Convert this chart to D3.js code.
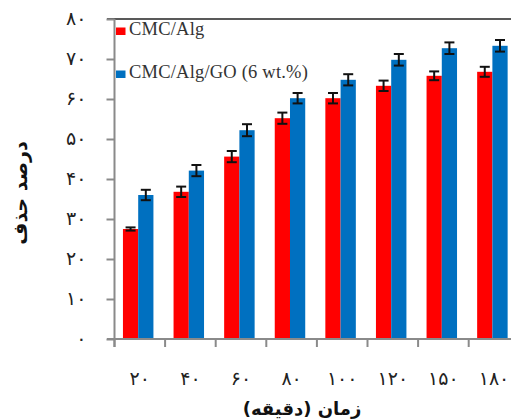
<!DOCTYPE html>
<html>
<head>
<meta charset="utf-8">
<script src="https://cdn.jsdelivr.net/npm/d3@7"></script>
<style>
  html, body { margin: 0; padding: 0; background: #fff; }
  svg { display: block; }
</style>
</head>
<body>
<div id="chart"></div>
<script>
// data
const categories = ["۲۰", "۴۰", "۶۰", "۸۰", "۱۰۰", "۱۲۰", "۱۵۰", "۱۸۰"];
const seriesNames = ["CMC/Alg", "CMC/Alg/GO (6 wt.%)"];
const cmcAlg = [27.5, 36.8, 45.6, 55.2, 60.2, 63.3, 65.8, 66.8];
const cmcAlgErr = [0.4, 1.3, 1.4, 1.4, 1.3, 1.3, 1.1, 1.25];
const cmcAlgGo = [36.0, 42.1, 52.2, 60.2, 64.8, 69.8, 72.7, 73.3];
const cmcAlgGoErr = [1.3, 1.4, 1.5, 1.3, 1.4, 1.45, 1.45, 1.45];
const yTicks = [0, 10, 20, 30, 40, 50, 60, 70, 80];
const colors = ["#ff0000", "#0070c0"];

const W = 511, H = 420;
const faDigits = "۰۱۲۳۴۵۶۷۸۹";
const toFa = n => String(n).replace(/\d/g, d => faDigits[+d]);

const svg = d3.select("#chart").append("svg")
    .attr("width", W).attr("height", H);

const x0 = d3.scaleBand().domain(categories).range([114.5, 114.5 + 8 * 50.6]).padding(0);
const x1 = d3.scaleBand().domain(seriesNames).range([0, x0.bandwidth()])
    .paddingInner(0).paddingOuter(0.66).align(0.42);
const y = d3.scaleLinear().domain([0, 80]).range([339, 19]);

const rows = categories.map((c, i) => ({
    cat: c,
    vals: [
        { s: seriesNames[0], v: cmcAlg[i], e: cmcAlgErr[i], k: 0 },
        { s: seriesNames[1], v: cmcAlgGo[i], e: cmcAlgGoErr[i], k: 1 }
    ]
}));

// top frame line
svg.append("line")
    .attr("x1", 107).attr("x2", W).attr("y1", y(80)).attr("y2", y(80))
    .attr("stroke", "#222").attr("stroke-width", 1.6);

// bars
const g = svg.append("g").selectAll("g").data(rows).join("g")
    .attr("transform", d => `translate(${x0(d.cat)},0)`);

g.selectAll("rect").data(d => d.vals).join("rect")
    .attr("x", d => x1(d.s))
    .attr("width", x1.bandwidth())
    .attr("y", d => y(d.v))
    .attr("height", d => y(0) - y(d.v))
    .attr("fill", d => colors[d.k]);

// error bars
const eb = g.selectAll("g.err").data(d => d.vals).join("g").attr("class", "err")
    .attr("stroke", "#111").attr("stroke-width", 2);
eb.append("line")
    .attr("x1", d => x1(d.s) + x1.bandwidth() / 2).attr("x2", d => x1(d.s) + x1.bandwidth() / 2)
    .attr("y1", d => y(d.v + d.e)).attr("y2", d => y(d.v - d.e));
eb.append("line")
    .attr("x1", d => x1(d.s) + x1.bandwidth() / 2 - 5).attr("x2", d => x1(d.s) + x1.bandwidth() / 2 + 5)
    .attr("y1", d => y(d.v + d.e)).attr("y2", d => y(d.v + d.e));
eb.append("line")
    .attr("x1", d => x1(d.s) + x1.bandwidth() / 2 - 5).attr("x2", d => x1(d.s) + x1.bandwidth() / 2 + 5)
    .attr("y1", d => y(d.v - d.e)).attr("y2", d => y(d.v - d.e));

// y axis
const yAxis = svg.append("g")
    .attr("transform", "translate(114.5,0)")
    .call(d3.axisLeft(y).tickValues(yTicks).tickSize(8).tickSizeOuter(0).tickPadding(20).tickFormat(toFa));
yAxis.select(".domain").attr("stroke", "#8a8a8a").attr("stroke-width", 2)
    .attr("d", `M0,${y(80)}V347`);
yAxis.selectAll(".tick line").attr("stroke", "#8a8a8a").attr("stroke-width", 2);
yAxis.selectAll(".tick text")
    .attr("font-family", "DejaVu Sans").attr("font-size", 19)
    .attr("fill", "#222").attr("dy", "0.3em");

// x axis
const xAxis = svg.append("g")
    .attr("transform", `translate(0,${y(0)})`)
    .call(d3.axisBottom(x0).tickSize(0).tickPadding(33));
xAxis.select(".domain").attr("stroke", "#8a8a8a").attr("stroke-width", 2)
    .attr("d", `M107,0H${W}`);
xAxis.selectAll(".tick text")
    .attr("font-family", "DejaVu Sans").attr("font-size", 19)
    .attr("fill", "#222").attr("letter-spacing", 1.5);
xAxis.selectAll("line.sep").data(categories).join("line").attr("class", "sep")
    .attr("x1", d => x0(d)).attr("x2", d => x0(d))
    .attr("y1", 0).attr("y2", 8)
    .attr("stroke", "#8a8a8a").attr("stroke-width", 2);

// axis titles
svg.append("text")
    .attr("x", 302).attr("y", 415)
    .attr("text-anchor", "middle")
    .attr("font-family", "DejaVu Sans").attr("font-weight", "bold").attr("font-size", 18)
    .attr("fill", "#111")
    .text("زمان (دقیقه)");

svg.append("text")
    .attr("transform", "translate(27,193) rotate(-90)")
    .attr("text-anchor", "middle")
    .attr("font-family", "DejaVu Sans").attr("font-weight", "bold").attr("font-size", 19)
    .attr("fill", "#111")
    .text("درصد حذف");

// legend
const legendY = [35, 78];
const lg = svg.append("g").selectAll("g").data(seriesNames).join("g")
    .attr("transform", (d, i) => `translate(116,${legendY[i]})`);
lg.append("rect").attr("x", 0).attr("y", -7.5).attr("width", 9.5).attr("height", 7.5)
    .attr("fill", (d, i) => colors[i]);
lg.append("text").attr("x", 13).attr("y", 0)
    .attr("font-family", "Liberation Serif").attr("font-size", 18.5).attr("fill", "#333")
    .attr("letter-spacing", 0.2)
    .text(d => d);
</script>
</body>
</html>
